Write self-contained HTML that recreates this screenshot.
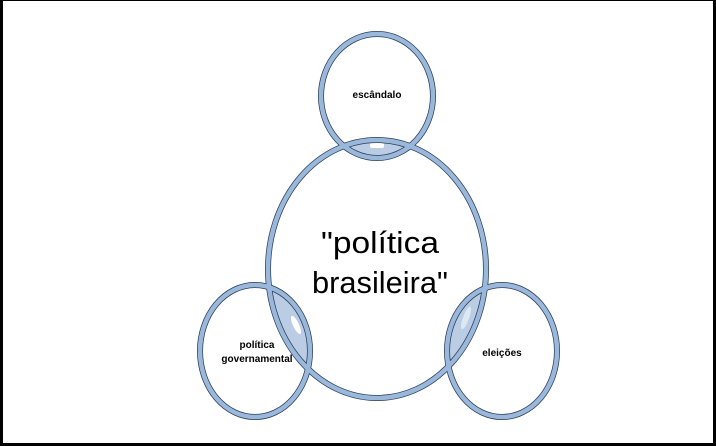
<!DOCTYPE html>
<html><head><style>
html,body{margin:0;padding:0;background:#fff;}
svg{display:block;}
</style></head><body>
<svg width="716" height="446" viewBox="0 0 716 446" xmlns="http://www.w3.org/2000/svg">
<defs>
<clipPath id="cm"><ellipse cx="377" cy="269" rx="109" ry="129"/></clipPath>
</defs>
<rect x="0" y="0" width="716" height="446" fill="#fff"/>
<rect x="0.5" y="0.5" width="714" height="444" fill="none" stroke="#000" stroke-width="1"/>
<rect x="0" y="0" width="3" height="446" fill="#000"/>
<rect x="0" y="443" width="716" height="3" fill="#000"/>
<rect x="713" y="0" width="3" height="446" fill="#000"/>
<g clip-path="url(#cm)" fill="#a9c0de" opacity="0.8">
<ellipse cx="377" cy="96" rx="56" ry="62"/>
<ellipse cx="255" cy="351" rx="55" ry="66"/>
<ellipse cx="502" cy="351" rx="55" ry="66"/>
</g>
<rect x="370" y="143" width="14" height="5" rx="2" fill="#fff"/>
<ellipse cx="296" cy="325" rx="3" ry="10" transform="rotate(-25 296 325)" fill="#fff"/>
<ellipse cx="466" cy="318" rx="3" ry="12" transform="rotate(20 466 318)" fill="#dde8f5"/>
<g fill="none">
<g stroke="#2c3e55" stroke-width="6">
<ellipse cx="377" cy="269" rx="109" ry="129"/>
<ellipse cx="377" cy="96" rx="56" ry="62"/>
<ellipse cx="255" cy="351" rx="55" ry="66"/>
<ellipse cx="502" cy="351" rx="55" ry="66"/>
</g>
<g stroke="#9ab8dc" stroke-width="4.5">
<ellipse cx="377" cy="269" rx="109" ry="129"/>
<ellipse cx="377" cy="96" rx="56" ry="62"/>
<ellipse cx="255" cy="351" rx="55" ry="66"/>
<ellipse cx="502" cy="351" rx="55" ry="66"/>
</g>
</g>
<g font-family="Liberation Sans, sans-serif" text-anchor="middle" fill="#000">
<text x="377" y="98" font-size="10" font-weight="bold">escândalo</text>
<text x="380" y="253" font-size="31" textLength="118" lengthAdjust="spacingAndGlyphs">"política</text>
<text x="380" y="293" font-size="31" textLength="136" lengthAdjust="spacingAndGlyphs">brasileira"</text>
<text x="257" y="348" font-size="10" font-weight="bold">política</text>
<text x="257" y="362" font-size="10" font-weight="bold">governamental</text>
<text x="502" y="356" font-size="10" font-weight="bold">eleições</text>
</g>
</svg>
</body></html>
